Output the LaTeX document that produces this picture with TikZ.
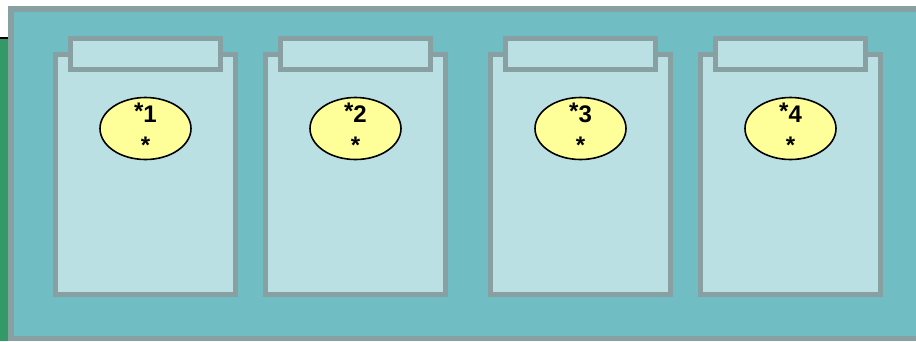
\documentclass[tikz,border=0pt]{standalone}
\usepackage{fontspec}
\setmainfont{Liberation Sans}
\usetikzlibrary{shapes.geometric}
\definecolor{frame}{HTML}{88A0A2}
\definecolor{panel}{HTML}{70BEC4}
\definecolor{cardfill}{HTML}{BAE0E4}
\definecolor{ovalfill}{HTML}{FFFF99}
\definecolor{strip}{HTML}{339966}
\begin{document}
\begin{tikzpicture}[x=1pt,y=-1pt,
  cardbody/.style={rectangle, draw=frame, fill=cardfill, line width=5pt,
    minimum width=180pt, minimum height=240pt, inner sep=0pt, outer sep=0pt},
  cardtab/.style={rectangle, draw=frame, fill=cardfill, line width=5pt,
    minimum width=150pt, minimum height=31pt, inner sep=0pt, outer sep=0pt},
  ovalnode/.style={ellipse, draw=black, fill=ovalfill, line width=1.6pt,
    minimum width=91pt, minimum height=62pt, inner sep=0pt},
  lbl/.style={inner sep=0pt, font=\fontsize{24}{28}\selectfont\bfseries, text=black}]
\useasboundingbox (0,0) rectangle (916,341);
\clip (0,0) rectangle (916,341);
\fill[strip] (0,37) rectangle (11,341);
\draw[black, line width=2pt] (0,38) -- (10,38);
\draw[frame, fill=panel, line width=5.5pt] (10.75,9) rectangle (950,338.5);
\foreach \cx/\n in {145.5/1, 355.5/2, 580.5/3, 790.5/4}{
  \node[cardbody] (body\n) at (\cx,174.5) {};
  \node[cardtab] (tab\n) at (\cx,54) {};
  \node[ovalnode] (oval\n) at (\cx,128.5) {};
  \node[lbl, anchor=base] (top\n) at ([yshift=6.5pt]oval\n.center) {\raisebox{3pt}{*}\n};
  \node[lbl, anchor=base] (bot\n) at ([yshift=-25pt]oval\n.center) {*};
}
\end{tikzpicture}
\end{document}
